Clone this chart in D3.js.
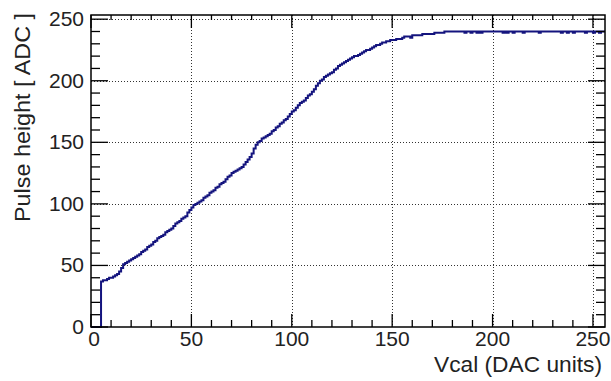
<!DOCTYPE html>
<html>
<head>
<meta charset="utf-8">
<script src="https://cdn.jsdelivr.net/npm/d3@7"></script>
<style>
  html, body { margin: 0; padding: 0; background: #fff; }
  svg text { font-family: "Liberation Sans", Arial, Helvetica, sans-serif; fill: #222; }
</style>
</head>
<body>
<div id="chart"></div>
<script>
// Vcal bins 0..255, pulse height per bin (ADC)
const pulseHeight = [
  0, 0, 0, 0, 0, 37, 38, 38, 39, 40,
  40, 41, 42, 43, 45, 48, 51, 52, 53, 54,
  55, 56, 57, 58, 59, 61, 62, 63, 65, 66,
  67, 69, 70, 72, 73, 74, 75, 77, 78, 79,
  80, 82, 84, 85, 86, 88, 89, 90, 93, 95,
  97, 99, 100, 101, 102, 103, 105, 106, 107, 109,
  110, 111, 113, 114, 116, 117, 118, 120, 122, 123,
  125, 126, 127, 128, 129, 130, 132, 134, 136, 138,
  141, 145, 148, 150, 151, 153, 154, 155, 156, 157,
  159, 160, 162, 163, 165, 166, 168, 169, 171, 173,
  175, 176, 178, 180, 182, 183, 184, 186, 188, 189,
  191, 193, 196, 198, 200, 201, 203, 204, 205, 206,
  207, 209, 210, 212, 213, 214, 215, 216, 217, 218,
  219, 220, 220, 221, 222, 223, 224, 225, 225, 226,
  227, 228, 229, 229, 230, 231, 231, 232, 232, 233,
  233, 233, 234, 234, 234, 235, 236, 236, 236, 235,
  237, 237, 237, 237, 237, 238, 238, 238, 238, 238,
  238, 239, 239, 239, 239, 239, 240, 240, 240, 240,
  240, 240, 240, 240, 240, 240, 239, 240, 240, 239,
  240, 240, 239, 240, 239, 240, 240, 240, 240, 240,
  240, 240, 240, 240, 240, 239, 240, 239, 240, 240,
  239, 240, 240, 240, 240, 239, 240, 240, 240, 240,
  240, 240, 240, 239, 240, 240, 240, 240, 240, 240,
  240, 240, 240, 240, 239, 240, 240, 239, 240, 240,
  239, 240, 240, 240, 240, 240, 239, 240, 240, 240,
  239, 240, 240, 239, 240, 240
];
const xMajorTicks = [0, 50, 100, 150, 200, 250];
const yMajorTicks = [0, 50, 100, 150, 200, 250];
const xTitle = "Vcal (DAC units)";
const yTitle = "Pulse height [ ADC ]";

const width = 611, height = 381;
const margin = { top: 15, right: 6, bottom: 54, left: 91 };

const svg = d3.select("#chart").append("svg")
  .attr("width", width)
  .attr("height", height);

svg.append("rect").attr("width", width).attr("height", height).attr("fill", "#fff");

const x = d3.scaleLinear().domain([0, 256]).range([margin.left, width - margin.right]);
const y = d3.scaleLinear().domain([0, 253.4]).range([height - margin.bottom, margin.top]);

const x0 = x.range()[0], x1 = x.range()[1];
const y0 = y.range()[0], y1 = y.range()[1];

const xMinor = d3.range(0, 257, 10).filter(v => v % 50 !== 0);
const yMinor = d3.range(0, 254, 10).filter(v => v % 50 !== 0);

// dotted grid at major ticks
const grid = svg.append("g").attr("stroke", "#333").attr("stroke-width", 1).attr("stroke-dasharray", "1,2");
grid.selectAll("line.gx").data(xMajorTicks.filter(v => v > 0)).join("line")
  .attr("x1", d => Math.round(x(d)) + 0.5).attr("x2", d => Math.round(x(d)) + 0.5)
  .attr("y1", y1).attr("y2", y0);
grid.selectAll("line.gy").data(yMajorTicks.filter(v => v > 0)).join("line")
  .attr("x1", x0).attr("x2", x1)
  .attr("y1", d => Math.round(y(d)) + 0.5).attr("y2", d => Math.round(y(d)) + 0.5);

// histogram
const pts = pulseHeight.map((v, i) => [i, v]);
pts.push([256, pulseHeight[pulseHeight.length - 1]]);
const line = d3.line().x(d => x(d[0])).y(d => y(d[1])).curve(d3.curveStepAfter);
svg.append("path")
  .datum(pts)
  .attr("fill", "none")
  .attr("stroke", "#14147e")
  .attr("stroke-width", 2)
  .attr("d", line);

// ticks (ROOT style: inside the frame, mirrored on top/right)
const ticks = svg.append("g").attr("stroke", "#000").attr("stroke-width", 1.3);
function vt(data, len, yBase, dir) {
  ticks.append("g").selectAll("line").data(data).join("line")
    .attr("x1", d => x(d)).attr("x2", d => x(d))
    .attr("y1", yBase).attr("y2", yBase + dir * len);
}
function ht(data, len, xBase, dir) {
  ticks.append("g").selectAll("line").data(data).join("line")
    .attr("y1", d => y(d)).attr("y2", d => y(d))
    .attr("x1", xBase).attr("x2", xBase + dir * len);
}
vt(xMajorTicks, 13, y0, -1);
vt(xMinor, 7, y0, -1);
vt(xMajorTicks, 13, y1, 1);
vt(xMinor, 5, y1, 1);
ht(yMajorTicks, 17, x0, 1);
ht(yMinor, 9, x0, 1);
ht(yMajorTicks, 17, x1, -1);
ht(yMinor, 9, x1, -1);

// frame
svg.append("rect")
  .attr("x", x0).attr("y", y1)
  .attr("width", x1 - x0).attr("height", y0 - y1)
  .attr("fill", "none").attr("stroke", "#000").attr("stroke-width", 1.5);

// tick labels
svg.append("g").selectAll("text").data(xMajorTicks).join("text")
  .attr("x", d => x(d) + (d === 0 ? 3 : 0)).attr("y", y0 + 19)
  .attr("text-anchor", "middle")
  .attr("font-size", 21)
  .text(d => d);
svg.append("g").selectAll("text").data(yMajorTicks).join("text")
  .attr("x", x0 - 7).attr("y", d => y(d) + 7)
  .attr("text-anchor", "end")
  .attr("font-size", 21)
  .text(d => d);

// axis titles
svg.append("text")
  .attr("x", x1 - 3).attr("y", 372)
  .attr("text-anchor", "end")
  .attr("font-size", 22)
  .attr("textLength", 168).attr("lengthAdjust", "spacingAndGlyphs")
  .text(xTitle);
svg.append("text")
  .attr("transform", `translate(30,${y1 - 2}) rotate(-90)`)
  .attr("text-anchor", "end")
  .attr("font-size", 22)
  .attr("textLength", 209).attr("lengthAdjust", "spacingAndGlyphs")
  .text(yTitle);
</script>
</body>
</html>
